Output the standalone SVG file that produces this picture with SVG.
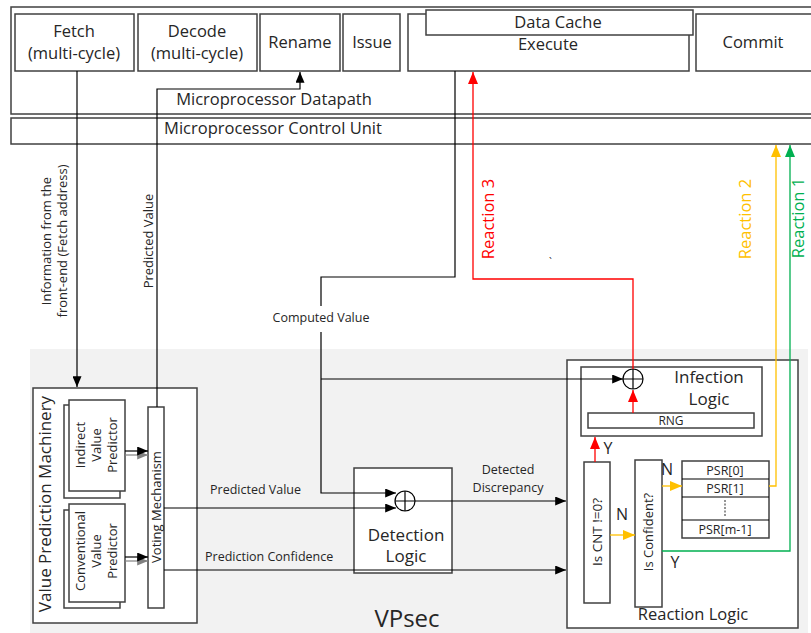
<svg xmlns="http://www.w3.org/2000/svg" width="811" height="633" viewBox="0 0 811 633">
<style>
.box{fill:#fff;stroke:#404040;stroke-width:1.5}
.t{font-family:"Open Sans","Liberation Sans",sans-serif;fill:#262626}
.lg{font-size:16.5px}
.md{font-size:13px}
.sm{font-size:12.5px}
.c{text-anchor:middle}
.ln{fill:none;stroke:#000;stroke-width:1.2}
.red{fill:none;stroke:#ff0000;stroke-width:1.3}
.yel{fill:none;stroke:#ffc000;stroke-width:1.3}
.grn{fill:none;stroke:#00b050;stroke-width:1.3}
</style>
<defs>
<marker id="ab" viewBox="0 0 12 10" refX="12" refY="5" markerWidth="12" markerHeight="9" markerUnits="userSpaceOnUse" orient="auto"><path d="M0,0L12,5L0,10z" fill="#000"/></marker>
<marker id="ag" viewBox="0 0 12 10" refX="12" refY="5" markerWidth="12" markerHeight="9" markerUnits="userSpaceOnUse" orient="auto"><path d="M0,0L12,5L0,10z" fill="#808080"/></marker>
<marker id="ar" viewBox="0 0 12 10" refX="12" refY="5" markerWidth="14" markerHeight="10" markerUnits="userSpaceOnUse" orient="auto"><path d="M0,0L12,5L0,10z" fill="#ff0000"/></marker>
<marker id="ay" viewBox="0 0 12 10" refX="12" refY="5" markerWidth="14" markerHeight="10" markerUnits="userSpaceOnUse" orient="auto"><path d="M0,0L12,5L0,10z" fill="#ffc000"/></marker>
<marker id="agr" viewBox="0 0 12 10" refX="12" refY="5" markerWidth="14" markerHeight="10" markerUnits="userSpaceOnUse" orient="auto"><path d="M0,0L12,5L0,10z" fill="#00b050"/></marker>
</defs>
<rect x="0" y="0" width="811" height="633" fill="#fff"/>
<g id="vpsec-region">
<rect x="30" y="349" width="778" height="284" fill="#f2f2f2"/>
<text class="t c" x="407" y="627" font-size="24">VPsec</text>
</g>
<g id="datapath">
<rect class="box" x="11" y="7" width="820" height="107"/>
<text class="t lg c" x="274" y="105">Microprocessor Datapath</text>
</g>
<g id="control-unit">
<rect class="box" x="11" y="118" width="820" height="26"/>
<text class="t lg c" x="273" y="134">Microprocessor Control Unit</text>
</g>
<g id="fetch">
<rect class="box" x="15" y="14" width="119" height="57"/>
<text class="t lg c" x="74" y="37">Fetch</text>
<text class="t lg c" x="74" y="59">(multi-cycle)</text>
</g>
<g id="decode">
<rect class="box" x="138" y="14" width="119" height="57"/>
<text class="t lg c" x="197" y="37">Decode</text>
<text class="t lg c" x="197" y="59">(multi-cycle)</text>
</g>
<g id="rename">
<rect class="box" x="260" y="14" width="80" height="57"/>
<text class="t lg c" x="300" y="48">Rename</text>
</g>
<g id="issue">
<rect class="box" x="343" y="14" width="57" height="57"/>
<text class="t lg c" x="372" y="48">Issue</text>
</g>
<g id="execute">
<rect class="box" x="408" y="14" width="281" height="57"/>
<text class="t lg c" x="548" y="50">Execute</text>
</g>
<g id="data-cache">
<rect class="box" x="426" y="10" width="267" height="25"/>
<text class="t lg c" x="558" y="28">Data Cache</text>
</g>
<g id="commit">
<rect class="box" x="696" y="14" width="130" height="57"/>
<text class="t lg c" x="753" y="48">Commit</text>
</g>
<g id="value-prediction-machinery">
<rect class="box" x="33" y="388" width="164" height="235"/>
<text class="t c" font-size="17" transform="translate(51,504) rotate(-90)">Value Prediction Machinery</text>
</g>
<g id="indirect-value-predictor">
<rect class="box" x="64" y="405" width="56" height="93"/>
<rect class="box" x="69" y="400" width="56" height="91"/>
<g class="t md c" transform="translate(0,445)">
<text transform="translate(85,0) rotate(-90)">Indirect</text>
<text transform="translate(101,0) rotate(-90)">Value</text>
<text transform="translate(117,0) rotate(-90)">Predictor</text>
</g>
</g>
<g id="conventional-value-predictor">
<rect class="box" x="64" y="510" width="56" height="98"/>
<rect class="box" x="69" y="504" width="56" height="98"/>
<g class="t md c" transform="translate(0,551)">
<text transform="translate(85,0) rotate(-90)">Conventional</text>
<text transform="translate(101,0) rotate(-90)">Value</text>
<text transform="translate(117,0) rotate(-90)">Predictor</text>
</g>
</g>
<g id="voting-mechanism">
<rect class="box" x="148" y="407" width="16" height="201"/>
<text class="t md c" transform="translate(161,507) rotate(-90)">Voting Mechanism</text>
</g>
<g id="detection-logic">
<rect class="box" x="354" y="468" width="98" height="105"/>
<circle cx="405" cy="501" r="10" fill="none" stroke="#000" stroke-width="1.2"/>
<path class="ln" d="M395,501H415M405,491V511"/>
<text class="t c" font-size="17" x="406" y="541">Detection</text>
<text class="t c" font-size="17" x="406" y="562">Logic</text>
</g>
<g id="reaction-logic">
<rect class="box" x="567" y="360" width="231" height="268"/>
<text class="t lg c" x="693" y="620">Reaction Logic</text>
</g>
<g id="infection-logic">
<rect class="box" x="581" y="367" width="181" height="69"/>
<text class="t c" font-size="17" x="709" y="383">Infection</text>
<text class="t c" font-size="17" x="709" y="405">Logic</text>
<circle cx="633" cy="379" r="10" fill="#fff" stroke="#000" stroke-width="1.2"/>
<path class="ln" d="M623,379H643M633,369V389"/>
</g>
<g id="rng">
<rect class="box" x="588" y="413" width="166" height="15"/>
<text class="t c" font-size="12" x="671" y="425">RNG</text>
</g>
<g id="is-cnt">
<rect class="box" x="584" y="462" width="26" height="141"/>
<text class="t c" font-size="13.5" transform="translate(602,532) rotate(-90)">Is CNT !=0?</text>
</g>
<g id="is-confident">
<rect class="box" x="635" y="460" width="27" height="147"/>
<text class="t c" font-size="13" transform="translate(653,532) rotate(-90)">Is Confident?</text>
</g>
<g id="psr">
<rect class="box" x="682" y="461" width="87" height="77"/>
<path class="ln" stroke="#404040" d="M682,479H769M682,497H769M682,520H769"/>
<text class="t sm c" x="725" y="475">PSR[0]</text>
<text class="t sm c" x="725" y="493">PSR[1]</text>
<path d="M725,500V517" stroke="#262626" stroke-width="1" stroke-dasharray="2,1.5"/>
<text class="t sm c" x="725" y="534">PSR[m-1]</text>
</g>
<g id="connectors">
<path class="ln" d="M77,71V387" marker-end="url(#ab)"/>
<path class="ln" d="M157,407V89H300V72" marker-end="url(#ab)"/>
<path class="ln" d="M455,71V277H321V306"/>
<path class="ln" d="M321,332V493H396" marker-end="url(#ab)"/>
<path class="ln" d="M321,379H623" marker-end="url(#ab)"/>
<path class="ln" d="M164,508H396" marker-end="url(#ab)"/>
<path class="ln" d="M415,501H566" marker-end="url(#ab)"/>
<path class="ln" d="M164,570H566" marker-end="url(#ab)"/>
<path d="M125,455H148" fill="none" stroke="#808080" stroke-width="1.2" marker-end="url(#ag)"/>
<path class="ln" d="M125,451H148" marker-end="url(#ab)"/>
<path d="M125,561H148" fill="none" stroke="#808080" stroke-width="1.2" marker-end="url(#ag)"/>
<path class="ln" d="M125,557H148" marker-end="url(#ab)"/>
<path class="red" d="M633,369V279H473V72" marker-end="url(#ar)"/>
<path class="red" d="M633,413V390" marker-end="url(#ar)"/>
<path class="red" d="M595,462V437" marker-end="url(#ar)"/>
<path class="yel" d="M610,535H635" marker-end="url(#ay)"/>
<path class="yel" d="M662,486H682" marker-end="url(#ay)"/>
<path class="yel" d="M769,486H776V145" marker-end="url(#ay)"/>
<path class="grn" d="M662,551H790V145" marker-end="url(#agr)"/>
</g>
<g id="labels">
<text class="t md c" transform="translate(51,241) rotate(-90)">Information from the</text>
<text class="t md c" transform="translate(67,241) rotate(-90)">front-end (Fetch address)</text>
<text class="t md c" transform="translate(153,241) rotate(-90)">Predicted Value</text>
<text class="t sm c" x="321" y="322">Computed Value</text>
<text class="t sm" x="210" y="494">Predicted Value</text>
<text class="t sm" x="205" y="561">Prediction Confidence</text>
<text class="t sm c" x="508" y="474">Detected</text>
<text class="t sm c" x="508" y="492">Discrepancy</text>
<text class="t lg c" transform="translate(494,219) rotate(-90)" style="fill:#ff0000">Reaction 3</text>
<text class="t lg c" transform="translate(751,219) rotate(-90)" style="fill:#ffc000">Reaction 2</text>
<text class="t lg c" transform="translate(804,218) rotate(-90)" style="fill:#00b050">Reaction 1</text>
<text class="t" font-size="10" x="549" y="266">`</text>
<text class="t c" font-size="16" x="608" y="454">Y</text>
<text class="t c" font-size="16" x="667" y="475">N</text>
<text class="t c" font-size="16" x="622" y="520">N</text>
<text class="t c" font-size="16" x="675" y="568">Y</text>
</g>
</svg>
